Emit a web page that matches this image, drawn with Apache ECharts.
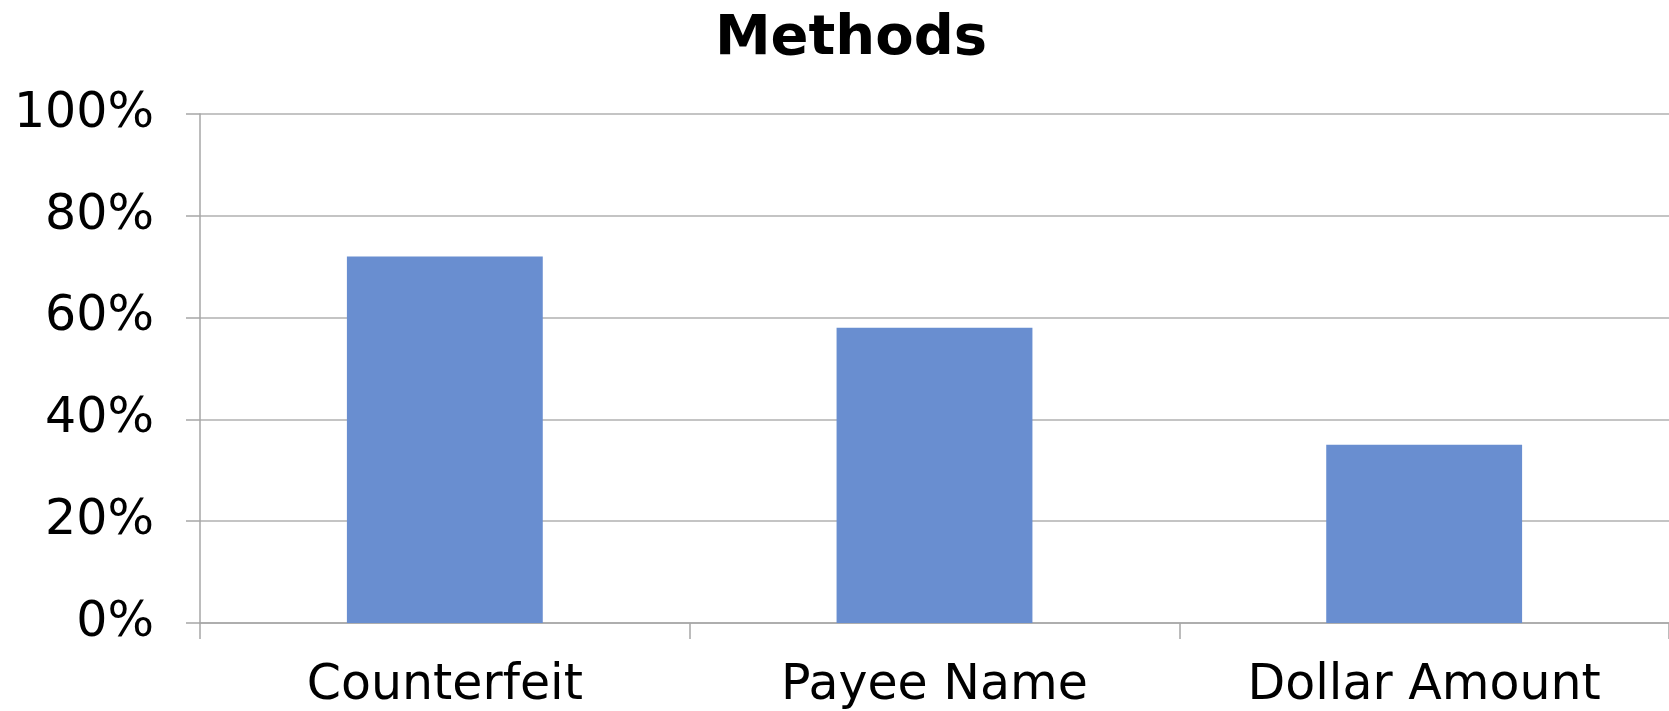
<!DOCTYPE html>
<html>
<head>
<meta charset="utf-8">
<script src="https://cdn.jsdelivr.net/npm/echarts@6/dist/echarts.min.js"></script>
<style>
html,body{margin:0;padding:0;background:#fff;}
#chart{width:1669px;height:711px;}
</style>
</head>
<body>
<div id="chart"></div>
<script>
const titleText = 'Methods';
const categories = ['Counterfeit', 'Payee Name', 'Dollar Amount'];
const values = [72, 58, 35];
const yTicks = [0, 20, 40, 60, 80, 100];

const chart = echarts.init(document.getElementById('chart'), null, {renderer: 'canvas'});
chart.setOption({
  animation: false,
  backgroundColor: '#ffffff',
  title: {
    text: titleText,
    left: 846,
    top: 6,
    textAlign: 'center',
    textStyle: {fontFamily: 'DejaVu Sans', fontWeight: 'bold', fontSize: 56, color: '#000'}
  },
  grid: {left: 200, width: 1477, top: 114, bottom: 88, containLabel: false},
  xAxis: {
    type: 'category',
    data: categories,
    boundaryGap: true,
    axisLine: {lineStyle: {color: '#a6a6a6', width: 1.5}},
    axisTick: {show: true, length: 16, alignWithLabel: false, lineStyle: {color: '#a6a6a6', width: 1.5}},
    axisLabel: {fontFamily: 'DejaVu Sans', fontSize: 49, color: '#000', margin: 39, interval: 0}
  },
  yAxis: {
    type: 'value',
    min: yTicks[0],
    max: yTicks[yTicks.length - 1],
    interval: 20,
    axisLine: {show: true, lineStyle: {color: '#a6a6a6', width: 1.5}},
    axisTick: {show: true, length: 14, lineStyle: {color: '#a6a6a6', width: 1.5}},
    splitLine: {show: true, lineStyle: {color: '#b0b0b0', width: 1.5}},
    axisLabel: {fontFamily: 'DejaVu Sans', fontSize: 49, color: '#000', margin: 46, formatter: v => v + '%'}
  },
  series: [{
    type: 'bar',
    data: values,
    barWidth: '40%',
    itemStyle: {color: '#698ED0'}
  }]
});
</script>
</body>
</html>
